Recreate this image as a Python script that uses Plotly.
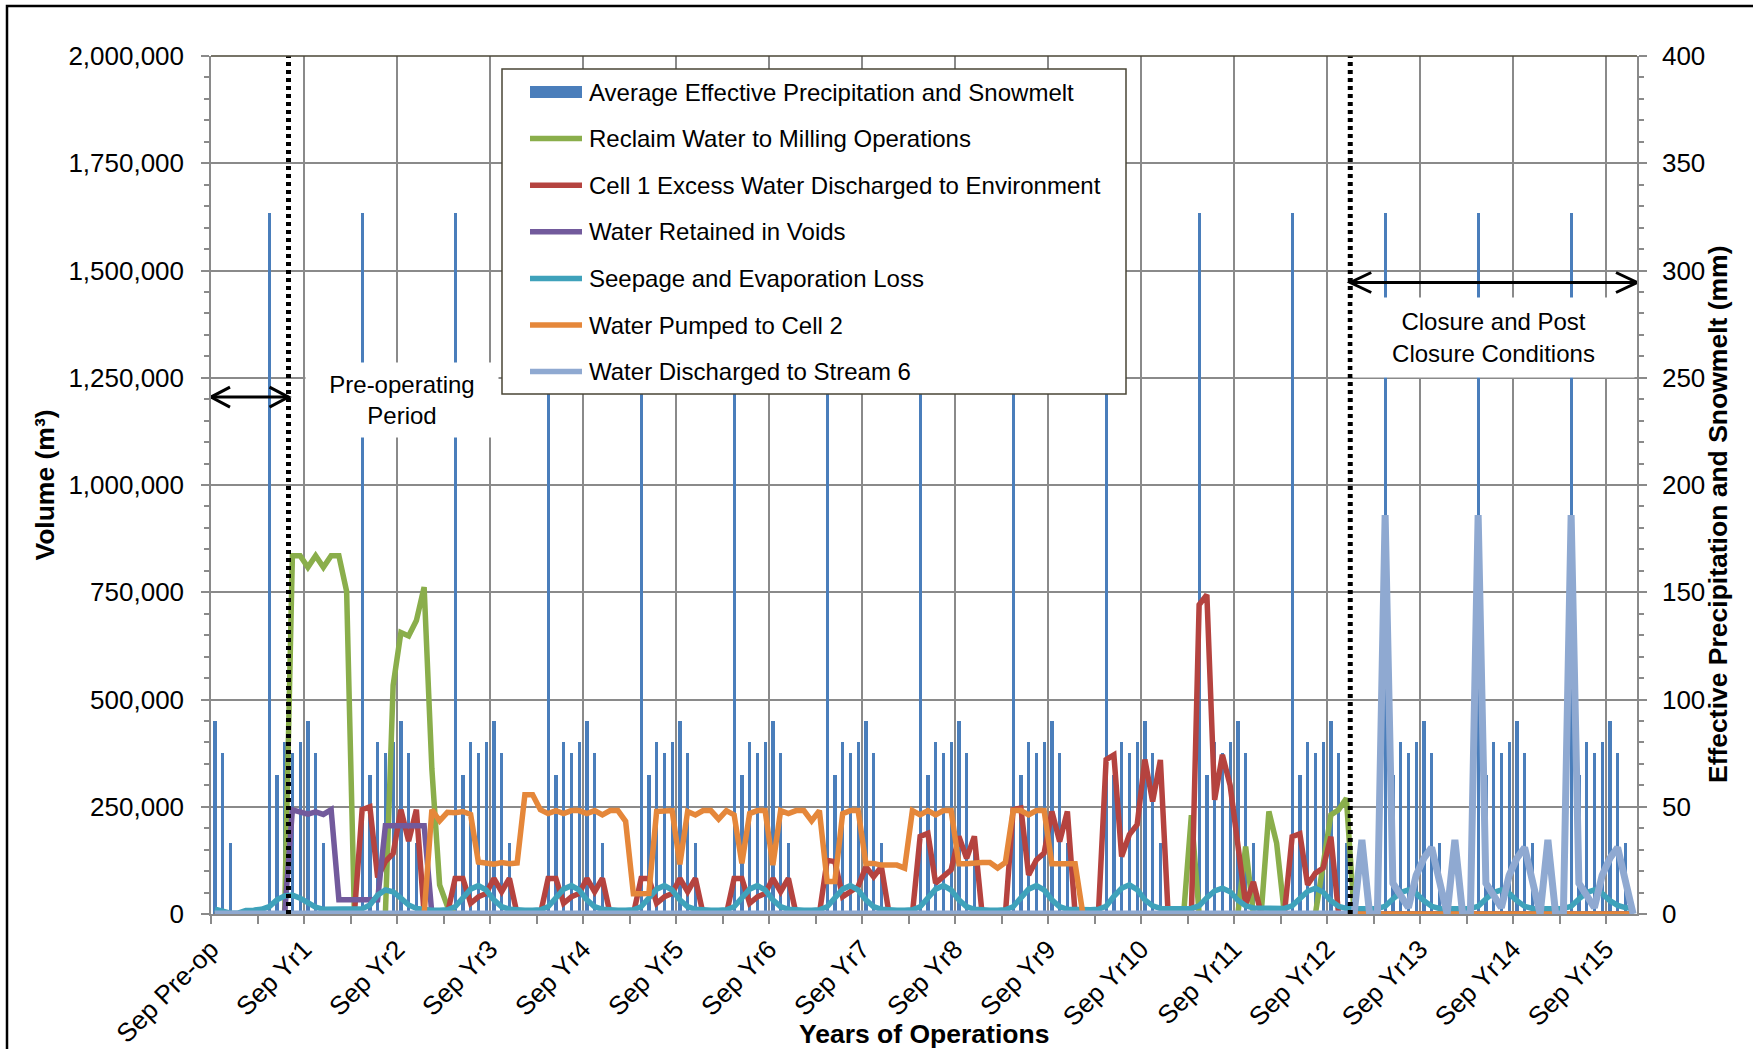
import plotly.graph_objects as go

# ---------------------------------------------------------------------------
# Monthly water balance, Sep of the pre-operating year (month 0) onward.
# One row per year (Sep .. Aug).
# ---------------------------------------------------------------------------
N_MONTHS = 184
OPERATIONS_START = 10     # month at which the pre-operating period ends
CLOSURE_START = 147       # month at which closure begins

year_labels = ["Sep Pre-op", "Sep Yr1", "Sep Yr2", "Sep Yr3", "Sep Yr4", "Sep Yr5",
               "Sep Yr6", "Sep Yr7", "Sep Yr8", "Sep Yr9", "Sep Yr10", "Sep Yr11",
               "Sep Yr12", "Sep Yr13", "Sep Yr14", "Sep Yr15"]
year_starts = [0, 12, 24, 36, 48, 60, 72, 84, 96, 108, 120, 132, 144, 156, 168, 180]

# Average effective precipitation and snowmelt (mm)
precip_mm = [
    90, 75, 33, 0, 0, 0, 0, 327, 65, 80, 75, 80,
    90, 75, 33, 0, 0, 0, 0, 327, 65, 80, 75, 80,
    90, 75, 33, 0, 0, 0, 0, 327, 65, 80, 75, 80,
    90, 75, 33, 0, 0, 0, 0, 327, 65, 80, 75, 80,
    90, 75, 33, 0, 0, 0, 0, 327, 65, 80, 75, 80,
    90, 75, 33, 0, 0, 0, 0, 327, 65, 80, 75, 80,
    90, 75, 33, 0, 0, 0, 0, 327, 65, 80, 75, 80,
    90, 75, 33, 0, 0, 0, 0, 327, 65, 80, 75, 80,
    90, 75, 33, 0, 0, 0, 0, 327, 65, 80, 75, 80,
    90, 75, 33, 0, 0, 0, 0, 327, 65, 80, 75, 80,
    90, 75, 33, 0, 0, 0, 0, 327, 65, 80, 75, 80,
    90, 75, 33, 0, 0, 0, 0, 327, 65, 80, 75, 80,
    90, 75, 33, 0, 0, 0, 0, 327, 65, 80, 75, 80,
    90, 75, 33, 0, 0, 0, 0, 327, 65, 80, 75, 80,
    90, 75, 33, 0, 0, 0, 0, 327, 65, 80, 75, 80,
    90, 75, 33, 0,
]

# Reclaim water to milling operations (m3)
reclaim_m3 = [
    0, 0, 0, 0, 0, 0, 0, 0, 0, 0, 835000, 835000,
    808000, 835000, 808000, 835000, 835000, 752000, 0, 0, 0, 0, 0, 533000,
    656000, 648000, 684000, 762000, 338000, 68000, 18000, 0, 0, 0, 0, 0,
    0, 0, 0, 0, 0, 0, 0, 0, 0, 0, 0, 0,
    0, 0, 0, 0, 0, 0, 0, 0, 0, 0, 0, 0,
    0, 0, 0, 0, 0, 0, 0, 0, 0, 0, 0, 0,
    0, 0, 0, 0, 0, 0, 0, 0, 0, 0, 0, 0,
    0, 0, 0, 0, 0, 0, 0, 0, 0, 0, 0, 0,
    0, 0, 0, 0, 0, 0, 0, 0, 0, 0, 0, 0,
    0, 0, 0, 0, 0, 0, 0, 0, 0, 0, 0, 0,
    0, 0, 0, 0, 0, 0, 230000, 0, 0, 0, 0, 0,
    0, 157000, 0, 0, 239000, 165000, 0, 0, 0, 0, 0, 115000,
    231000, 243000, 270000, 0, 0, 0, 0, 0, 0, 0, 0, 0,
    0, 0, 0, 0, 0, 0, 0, 0, 0, 0, 0, 0,
    0, 0, 0, 0, 0, 0, 0, 0, 0, 0, 0, 0,
    0, 0, 0, 0,
]

# Cell 1 excess water discharged to environment (m3)
cell1_excess_m3 = [
    0, 0, 0, 0, 0, 0, 0, 0, 0, 0, 0, 0,
    0, 0, 0, 0, 0, 0, 0, 243000, 250000, 85000, 122000, 141000,
    243000, 170000, 243000, 0, 0, 0, 0, 83000, 83000, 25000, 40000, 48000,
    83000, 52000, 83000, 0, 0, 0, 0, 83000, 83000, 25000, 40000, 48000,
    83000, 52000, 83000, 0, 0, 0, 0, 83000, 83000, 25000, 40000, 48000,
    83000, 52000, 83000, 0, 0, 0, 0, 83000, 83000, 25000, 40000, 48000,
    83000, 52000, 83000, 0, 0, 0, 0, 125000, 122000, 40000, 52000, 64000,
    110000, 87000, 110000, 0, 0, 0, 0, 181000, 188000, 72000, 87000, 103000,
    181000, 130000, 181000, 0, 0, 0, 0, 243000, 247000, 91000, 126000, 142000,
    239000, 169000, 239000, 0, 0, 0, 0, 360000, 371000, 134000, 185000, 208000,
    360000, 262000, 359000, 0, 0, 0, 0, 721000, 744000, 266000, 371000, 300000,
    150000, 22000, 75000, 0, 0, 0, 0, 180000, 187000, 68000, 95000, 107000,
    180000, 0, 0, 0, 0, 0, 0, 0, 0, 0, 0, 0,
    0, 0, 0, 0, 0, 0, 0, 0, 0, 0, 0, 0,
    0, 0, 0, 0, 0, 0, 0, 0, 0, 0, 0, 0,
    0, 0, 0, 0,
]

# Water retained in voids (m3)
voids_m3 = [
    0, 0, 0, 0, 0, 0, 0, 0, 0, 0, 243000, 238000,
    233000, 238000, 232000, 243000, 33000, 33000, 33000, 33000, 33000, 33000, 206000, 206000,
    206000, 206000, 206000, 206000, 0, 0, 0, 0, 0, 0, 0, 0,
    0, 0, 0, 0, 0, 0, 0, 0, 0, 0, 0, 0,
    0, 0, 0, 0, 0, 0, 0, 0, 0, 0, 0, 0,
    0, 0, 0, 0, 0, 0, 0, 0, 0, 0, 0, 0,
    0, 0, 0, 0, 0, 0, 0, 0, 0, 0, 0, 0,
    0, 0, 0, 0, 0, 0, 0, 0, 0, 0, 0, 0,
    0, 0, 0, 0, 0, 0, 0, 0, 0, 0, 0, 0,
    0, 0, 0, 0, 0, 0, 0, 0, 0, 0, 0, 0,
    0, 0, 0, 0, 0, 0, 0, 0, 0, 0, 0, 0,
    0, 0, 0, 0, 0, 0, 0, 0, 0, 0, 0, 0,
    0, 0, 0, 0, 0, 0, 0, 0, 0, 0, 0, 0,
    0, 0, 0, 0, 0, 0, 0, 0, 0, 0, 0, 0,
    0, 0, 0, 0, 0, 0, 0, 0, 0, 0, 0, 0,
    0, 0, 0, 0,
]

# Seepage and evaporation loss (m3)
seepage_m3 = [
    11000, 5000, 2000, 2000, 8000, 9000, 11000, 17000, 33000, 42000, 44000, 37000,
    25000, 16000, 11000, 11000, 11000, 11000, 11000, 12000, 21000, 44000, 56000, 52000,
    37000, 21000, 13000, 10000, 9000, 9000, 10000, 17000, 40000, 58000, 66000, 56000,
    33000, 17000, 11000, 9000, 9000, 9000, 10000, 17000, 40000, 58000, 66000, 56000,
    33000, 17000, 11000, 9000, 9000, 9000, 10000, 17000, 40000, 58000, 66000, 56000,
    33000, 17000, 11000, 9000, 9000, 9000, 10000, 17000, 40000, 58000, 66000, 56000,
    33000, 17000, 11000, 9000, 9000, 9000, 10000, 17000, 40000, 58000, 66000, 56000,
    33000, 17000, 11000, 9000, 9000, 9000, 10000, 17000, 40000, 58000, 66000, 56000,
    33000, 17000, 11000, 9000, 9000, 9000, 10000, 17000, 40000, 58000, 66000, 56000,
    33000, 17000, 11000, 10000, 10000, 10000, 11000, 18000, 41000, 60000, 68000, 57000,
    33000, 19000, 13000, 12000, 12000, 12000, 13000, 19000, 38000, 54000, 60000, 52000,
    32000, 19000, 14000, 13000, 13000, 13000, 13000, 19000, 37000, 53000, 60000, 51000,
    31000, 18000, 13000, 12000, 12000, 12000, 13000, 18000, 35000, 50000, 56000, 48000,
    31000, 18000, 13000, 12000, 12000, 12000, 13000, 18000, 35000, 50000, 56000, 48000,
    31000, 18000, 13000, 12000, 12000, 12000, 13000, 18000, 35000, 50000, 56000, 48000,
    31000, 20000, 15000, 13000,
]

# Water pumped to Cell 2 (m3)
pumped_m3 = [
    0, 0, 0, 0, 0, 0, 0, 0, 0, 0, 0, 0,
    0, 0, 0, 0, 0, 0, 0, 0, 0, 0, 0, 0,
    0, 0, 0, 0, 243000, 217000, 237000, 236000, 239000, 232000, 121000, 119000,
    116000, 120000, 117000, 119000, 278000, 278000, 243000, 234000, 241000, 234000, 241000, 241000,
    234000, 241000, 231000, 241000, 241000, 216000, 47000, 47000, 48000, 239000, 241000, 241000,
    116000, 239000, 231000, 241000, 241000, 221000, 241000, 231000, 118000, 234000, 241000, 241000,
    114000, 241000, 234000, 241000, 241000, 217000, 241000, 76000, 76000, 234000, 241000, 241000,
    118000, 118000, 114000, 114000, 114000, 107000, 241000, 231000, 241000, 231000, 241000, 241000,
    117000, 117000, 120000, 120000, 120000, 107000, 120000, 241000, 241000, 231000, 241000, 241000,
    117000, 117000, 117000, 117000, 0, 0, 0, 0, 0, 0, 0, 0,
    0, 0, 0, 0, 0, 0, 0, 0, 0, 0, 0, 0,
    0, 0, 0, 0, 0, 0, 0, 0, 0, 0, 0, 0,
    0, 0, 0, 0, 0, 0, 0, 0, 0, 0, 0, 0,
    0, 0, 0, 0, 0, 0, 0, 0, 0, 0, 0, 0,
    0, 0, 0, 0, 0, 0, 0, 0, 0, 0, 0, 0,
    0, 0, 0, 0,
]

# Water discharged to Stream 6 (m3)
stream6_m3 = [
    0, 0, 0, 0, 0, 0, 0, 0, 0, 0, 0, 0,
    0, 0, 0, 0, 0, 0, 0, 0, 0, 0, 0, 0,
    0, 0, 0, 0, 0, 0, 0, 0, 0, 0, 0, 0,
    0, 0, 0, 0, 0, 0, 0, 0, 0, 0, 0, 0,
    0, 0, 0, 0, 0, 0, 0, 0, 0, 0, 0, 0,
    0, 0, 0, 0, 0, 0, 0, 0, 0, 0, 0, 0,
    0, 0, 0, 0, 0, 0, 0, 0, 0, 0, 0, 0,
    0, 0, 0, 0, 0, 0, 0, 0, 0, 0, 0, 0,
    0, 0, 0, 0, 0, 0, 0, 0, 0, 0, 0, 0,
    0, 0, 0, 0, 0, 0, 0, 0, 0, 0, 0, 0,
    0, 0, 0, 0, 0, 0, 0, 0, 0, 0, 0, 0,
    0, 0, 0, 0, 0, 0, 0, 0, 0, 0, 0, 0,
    0, 0, 0, 0, 173000, 0, 0, 930000, 72000, 44000, 15000, 90000,
    130000, 155000, 85000, 0, 173000, 0, 0, 930000, 72000, 44000, 15000, 90000,
    130000, 155000, 85000, 0, 173000, 0, 0, 930000, 72000, 44000, 15000, 90000,
    130000, 155000, 85000, 0,
]

# ---------------------------------------------------------------------------
# Figure
# ---------------------------------------------------------------------------
W, H = 1753, 1049
ML, MR, MT, MB = 211, 116, 56, 135
PLOT_W = W - ML - MR
PLOT_H = H - MT - MB
FONT = "Liberation Sans, Arial, sans-serif"
GRID = "#8a8a8a"
EDGE = "#4a4636"


def px(x):
    """Horizontal page pixel -> paper fraction."""
    return (x - ML) / PLOT_W


def py(y):
    """Vertical page pixel (from top) -> paper fraction."""
    return (H - MB - y) / PLOT_H


# each month is plotted in the middle of its category slot
x_mid = [m + 0.5 for m in range(N_MONTHS)]

bar_name = "Average Effective Precipitation and Snowmelt"
bar_color = "#4a7ebb"

line_series = [
    ("Reclaim Water to Milling Operations", reclaim_m3, "#8aae4b", 5.5),
    ("Cell 1 Excess Water Discharged to Environment", cell1_excess_m3, "#b5433f", 5.5),
    ("Water Retained in Voids", voids_m3, "#725a9c", 5.5),
    ("Seepage and Evaporation Loss", seepage_m3, "#3fa2bb", 5.5),
    ("Water Pumped to Cell 2", pumped_m3, "#e5873a", 5.5),
    ("Water Discharged to Stream 6", stream6_m3, "#8fa9d1", 7),
]

fig = go.Figure()

fig.add_trace(go.Bar(
    x=x_mid, y=precip_mm, yaxis="y", width=0.42,
    marker=dict(color=bar_color, line=dict(width=0)),
    name=bar_name, showlegend=False,
))
for name, vals, color, lw in line_series:
    fig.add_trace(go.Scatter(
        x=x_mid, y=vals, yaxis="y2", mode="lines", name=name,
        line=dict(color=color, width=lw), showlegend=False,
    ))

fig.update_layout(
    width=W, height=H,
    margin=dict(l=ML, r=MR, t=MT, b=MB, autoexpand=False),
    paper_bgcolor="white", plot_bgcolor="white",
    font=dict(family=FONT, size=26, color="black"),
    bargap=0,
    xaxis=dict(
        range=[0, N_MONTHS], tickmode="array", tickvals=year_starts, ticktext=year_labels,
        tickangle=-45, tickfont=dict(size=26), ticks="outside", ticklen=8,
        tickcolor=GRID, tickwidth=1.5,
        minor=dict(dtick=6, tick0=0, ticks="outside", ticklen=8, tickcolor=GRID,
                   tickwidth=1.5, showgrid=False),
        showgrid=True, gridcolor=GRID, gridwidth=1.5,
        showline=True, linecolor=GRID, linewidth=1.5, zeroline=False,
        automargin=False,
    ),
    yaxis=dict(
        side="right", range=[0, 400], dtick=50, tick0=0,
        tickfont=dict(size=26), ticks="outside", ticklen=8, tickcolor=GRID, tickwidth=1.5,
        minor=dict(dtick=10, ticks="outside", ticklen=5, tickcolor=GRID, tickwidth=1.5,
                   showgrid=False),
        showgrid=True, gridcolor=GRID, gridwidth=1.5,
        showline=True, linecolor=GRID, linewidth=1.5, zeroline=False,
        ticklabelstandoff=10, automargin=False,
    ),
    yaxis2=dict(
        side="left", overlaying="y", range=[0, 2000000], dtick=250000, tick0=0,
        tickformat=",d", tickfont=dict(size=26), ticks="outside", ticklen=8,
        tickcolor=GRID, tickwidth=1.5,
        minor=dict(dtick=50000, ticks="outside", ticklen=5, tickcolor=GRID, tickwidth=1.5,
                   showgrid=False),
        showgrid=False, showline=True, linecolor=GRID, linewidth=1.5, zeroline=False,
        ticklabelstandoff=12, automargin=False,
        title=dict(text="Volume (m³)", font=dict(size=26.5, weight="bold"), standoff=6),
    ),
    showlegend=False,
)

annotations = [
    dict(text="Years of Operations", xref="paper", yref="paper",
         x=0.5, y=py(1034), xanchor="center", yanchor="middle",
         showarrow=False, font=dict(size=26.5, weight="bold")),
    dict(text="Effective Precipitation and Snowmelt (mm)", xref="paper", yref="paper",
         x=px(1718), y=py(514), textangle=-90,
         xanchor="center", yanchor="middle", showarrow=False,
         font=dict(size=26.5, weight="bold")),
    dict(text="Pre-operating<br>Period", xref="x", yref="y2", x=24.7, y=1199000,
         showarrow=False, bgcolor="white", width=192, height=74, borderpad=0,
         font=dict(size=24)),
    dict(text="Closure and Post<br>Closure Conditions", xref="x", yref="y2",
         x=165.5, y=1345000, showarrow=False, bgcolor="white", width=281, height=79,
         borderpad=0, font=dict(size=24)),
]

shapes = []
# period boundaries
for xb in (OPERATIONS_START, CLOSURE_START):
    shapes.append(dict(type="line", xref="x", yref="paper", x0=xb, x1=xb, y0=0, y1=1,
                       line=dict(color="black", width=5, dash="4px,4px")))


def double_arrow(x0, x1, y, head_len, head_half):
    out = [dict(type="line", xref="x", yref="y2", x0=x0, x1=x1, y0=y, y1=y,
                line=dict(color="black", width=3))]
    for xa, sgn in ((x0, 1), (x1, -1)):
        out.append(dict(
            type="path", xref="x", yref="y2", xsizemode="pixel", ysizemode="pixel",
            xanchor=xa, yanchor=y,
            path=f"M {sgn * head_len},{head_half} L 0,0 L {sgn * head_len},{-head_half}",
            line=dict(color="black", width=3)))
    return out


shapes += double_arrow(0, OPERATIONS_START, 1205000, 19, 10)
shapes += double_arrow(CLOSURE_START, N_MONTHS, 1472000, 21, 10)

# dark top edge of the plot area
shapes.append(dict(type="line", xref="paper", yref="paper", x0=0, x1=1, y0=1, y1=1,
                   line=dict(color=EDGE, width=1.5)))
# chart frame
shapes.append(dict(type="rect", xref="paper", yref="paper",
                   x0=px(7), x1=px(W + 20), y0=py(H + 20), y1=py(6),
                   line=dict(color="black", width=2.5), fillcolor="rgba(0,0,0,0)"))

# ---- legend box: white panel, a swatch per series and its name ----
LEG_L, LEG_T, LEG_R, LEG_B = 502, 69, 1126, 394
ROW0, ROW_STEP = 92, 46.6
SW_L, SW_R, TXT_L = 530, 582, 587
shapes.append(dict(type="rect", xref="paper", yref="paper",
                   x0=px(LEG_L), x1=px(LEG_R), y0=py(LEG_B), y1=py(LEG_T),
                   fillcolor="white", line=dict(color=EDGE, width=1.5)))
legend_rows = [(bar_name, bar_color, None)] + [(n, c, lw) for n, _, c, lw in line_series]
for i, (name, color, lw) in enumerate(legend_rows):
    yc = ROW0 + i * ROW_STEP
    if lw is None:
        shapes.append(dict(type="rect", xref="paper", yref="paper",
                           x0=px(SW_L), x1=px(SW_R), y0=py(yc + 6), y1=py(yc - 6),
                           fillcolor=color, line=dict(width=0)))
    else:
        shapes.append(dict(type="line", xref="paper", yref="paper",
                           x0=px(SW_L), x1=px(SW_R), y0=py(yc), y1=py(yc),
                           line=dict(color=color, width=5.5)))
    annotations.append(dict(text=name, xref="paper", yref="paper", x=px(TXT_L), y=py(yc),
                            xanchor="left", yanchor="middle", showarrow=False,
                            font=dict(size=24)))

fig.update_layout(annotations=annotations, shapes=shapes)

fig.write_html("out.html")
